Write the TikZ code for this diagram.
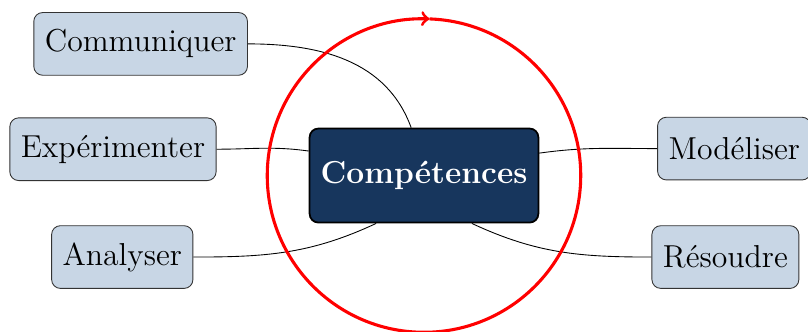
\documentclass[tikz,border=0pt]{standalone}
\definecolor{marine}{RGB}{23, 54, 93}
\definecolor{grisbleu}{RGB}{200, 214, 229}
\usetikzlibrary{positioning}

\begin{document}
\begin{tikzpicture}[
        competence/.style={draw=black!80, rounded corners, fill=grisbleu, font=\Large, minimum height=1cm, inner sep=5pt},
        centrale/.style={draw, thick, rounded corners, fill=marine, text=white, font=\Large\bfseries, minimum height=1.5cm, inner sep=5pt},
        lien/.style={black}
    ]
        % Frame
        \useasboundingbox (-6.763,-2.48) rectangle (6.125,2.8);

        % Central node
        \node[centrale] (comp) at (0,0) {Compétences};

        % Left competences
        \node[competence] (comm) [left=0.97cm of comp, yshift=2.1cm] {Communiquer};
        \node[competence] (exper) [left=1.47cm of comp, yshift=0.42cm] {Expérimenter};
        \node[competence] (analy) [left=1.84cm of comp, yshift=-1.3cm] {Analyser};

        % Right competences
        \node[competence] (model) [right=1.88cm of comp, yshift=0.43cm] {Modéliser};
        \node[competence] (resou) [right=1.79cm of comp, yshift=-1.3cm] {Résoudre};

        % Links
        \draw[lien] (comm.east) to[out=0, in=110] (comp.105);
        \draw[lien] (exper.east) to[out=0, in=172] (comp.168);
        \draw[lien] (analy.east) to[out=0, in=-155] (comp.-135);
        \draw[lien] (model.west) to[out=180, in=8] (comp.11);
        \draw[lien] (resou.west) to[out=180, in=-25] (comp.-45);

        % Cycle
        \draw[red, line width=1.4pt, ->] (comp.center) ++(88:2.5) arc[start angle=88, end angle=-272, radius=2.5cm];

    \end{tikzpicture}
\end{document}
